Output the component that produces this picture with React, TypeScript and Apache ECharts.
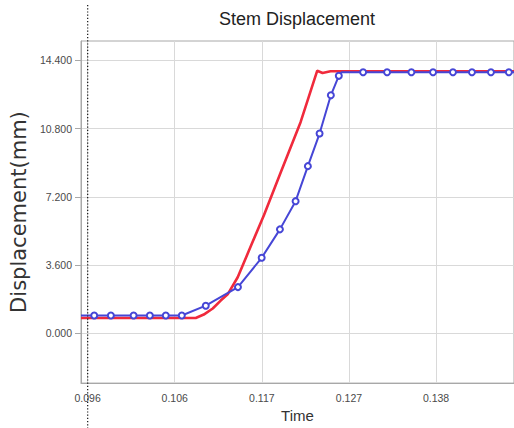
import React, { useEffect, useRef } from "react";
import * as echarts from "echarts";

const titleText = "Stem Displacement";
const xAxisName = "Time";
const yAxisName = "Displacement(mm)";

// axis ranges and ticks
const xMin = 0.095;
const xMax = 0.1472;
const xTicks = [0.0958, 0.1063, 0.1168, 0.1273, 0.1378];
const yMin = -2.64;
const yMax = 15.43;
const yTicks = [0, 3.6, 7.2, 10.8, 14.4];
const cursorTime = 0.0958;

// red curve (no markers)
const redTime = [0.095, 0.10883, 0.1098, 0.11088, 0.11184, 0.11268, 0.11389, 0.11545, 0.11705, 0.11906, 0.12147, 0.12348, 0.12412, 0.12508, 0.1472];
const redDisp = [0.8, 0.8, 0.98, 1.3, 1.72, 2.05, 2.95, 4.57, 6.23, 8.47, 11.14, 13.86, 13.74, 13.83, 13.83];

// blue curve (circle markers, except where marked false)
const blueTime = [0.095, 0.09659, 0.0986, 0.10134, 0.1033, 0.10522, 0.10715, 0.11004, 0.11392, 0.11678, 0.11898, 0.12087, 0.12235, 0.12376, 0.12512, 0.12608, 0.1264, 0.12901, 0.1319, 0.13483, 0.13744, 0.13984, 0.14213, 0.14442, 0.14658, 0.1472];
const blueDisp = [0.93, 0.93, 0.93, 0.93, 0.93, 0.93, 0.93, 1.45, 2.43, 3.98, 5.48, 6.97, 8.82, 10.54, 12.56, 13.59, 13.78, 13.78, 13.78, 13.78, 13.78, 13.78, 13.78, 13.78, 13.78, 13.78];
const blueMarker = [false, true, true, true, true, true, true, true, true, true, true, true, true, true, true, true, false, true, true, true, true, true, true, true, true, false];

export default function App() {
  const ref = useRef<HTMLDivElement>(null);
  useEffect(() => {
    if (!ref.current) return;
    const chart = echarts.init(ref.current, undefined, { renderer: "svg" });
    const gridLeft = 80;
    const gridRight = -1;
    const width = 514;
    const axisColor = "#a8a8a8";
    const gridColor = "#d9d9d9";
    const labelColor = "#4a4a4a";
    chart.setOption({
      animation: false,
      backgroundColor: "#ffffff",
      title: {
        text: titleText,
        left: gridLeft + (width - gridLeft) / 2,
        top: 10,
        padding: 0,
        textAlign: "center",
        textStyle: {
          fontFamily: "Liberation Sans, Arial, sans-serif",
          fontSize: 18,
          fontWeight: "normal",
          color: "#222",
        },
      },
      grid: {
        left: gridLeft,
        right: gridRight,
        top: 41,
        bottom: 38,
        show: true,
        borderColor: axisColor,
        borderWidth: 1,
        containLabel: false,
      },
      xAxis: {
        type: "value",
        min: xMin,
        max: xMax,
        name: xAxisName,
        nameLocation: "middle",
        nameGap: 22,
        nameTextStyle: {
          fontFamily: "Liberation Sans, Arial, sans-serif",
          fontSize: 15,
          color: "#333",
        },
        axisLine: { show: true, onZero: false, lineStyle: { color: axisColor, width: 1 } },
        axisTick: { show: false, customValues: xTicks },
        axisLabel: {
          customValues: xTicks,
          formatter: (v: number) => v.toFixed(3),
          fontFamily: "Liberation Sans, Arial, sans-serif",
          fontSize: 10.5,
          color: labelColor,
          margin: 9,
        },
        splitLine: { show: true, lineStyle: { color: gridColor, width: 1 } },
      },
      yAxis: {
        type: "value",
        min: yMin,
        max: yMax,
        name: yAxisName,
        nameLocation: "middle",
        nameRotate: 90,
        nameGap: 46,
        nameTextStyle: {
          fontFamily: "DejaVu Sans, sans-serif",
          fontSize: 21,
          color: "#333",
        },
        axisLine: { show: true, onZero: false, lineStyle: { color: axisColor, width: 1 } },
        axisTick: { show: true, length: 6, customValues: yTicks, lineStyle: { color: axisColor } },
        axisLabel: {
          customValues: yTicks,
          formatter: (v: number) => v.toFixed(3),
          fontFamily: "Liberation Sans, Arial, sans-serif",
          fontSize: 10.5,
          color: labelColor,
          margin: 9,
        },
        splitLine: { show: true, lineStyle: { color: gridColor, width: 1 } },
      },
      series: [
        {
          type: "line",
          name: "red",
          data: redTime.map((t, i) => [t, redDisp[i]]),
          showSymbol: false,
          symbol: "none",
          lineStyle: { color: "#f02a3c", width: 2.6 },
          itemStyle: { color: "#f02a3c" },
          z: 2,
        },
        {
          type: "line",
          name: "blue",
          data: blueTime.map((t, i) =>
            blueMarker[i]
              ? { value: [t, blueDisp[i]] }
              : { value: [t, blueDisp[i]], symbol: "none" }
          ),
          symbol: "emptyCircle",
          symbolSize: 6,
          showAllSymbol: true,
          lineStyle: { color: "#4646d6", width: 2 },
          itemStyle: { color: "#4646d6", borderColor: "#4646d6", borderWidth: 1.4 },
          z: 3,
        },
      ],
    });
    const px = chart.convertToPixel({ xAxisIndex: 0 }, cursorTime) as number;
    chart.setOption({
      graphic: [
        {
          type: "line",
          z: 10,
          shape: { x1: px, y1: 5, x2: px, y2: 428 },
          style: { stroke: "#222", lineWidth: 1.3, lineDash: [1.2, 2] },
        },
      ],
    });
    return () => chart.dispose();
  }, []);
  return (
    <div
      ref={ref}
      style={{ position: "absolute", left: 0, top: 0, width: 514, height: 428 }}
    />
  );
}
